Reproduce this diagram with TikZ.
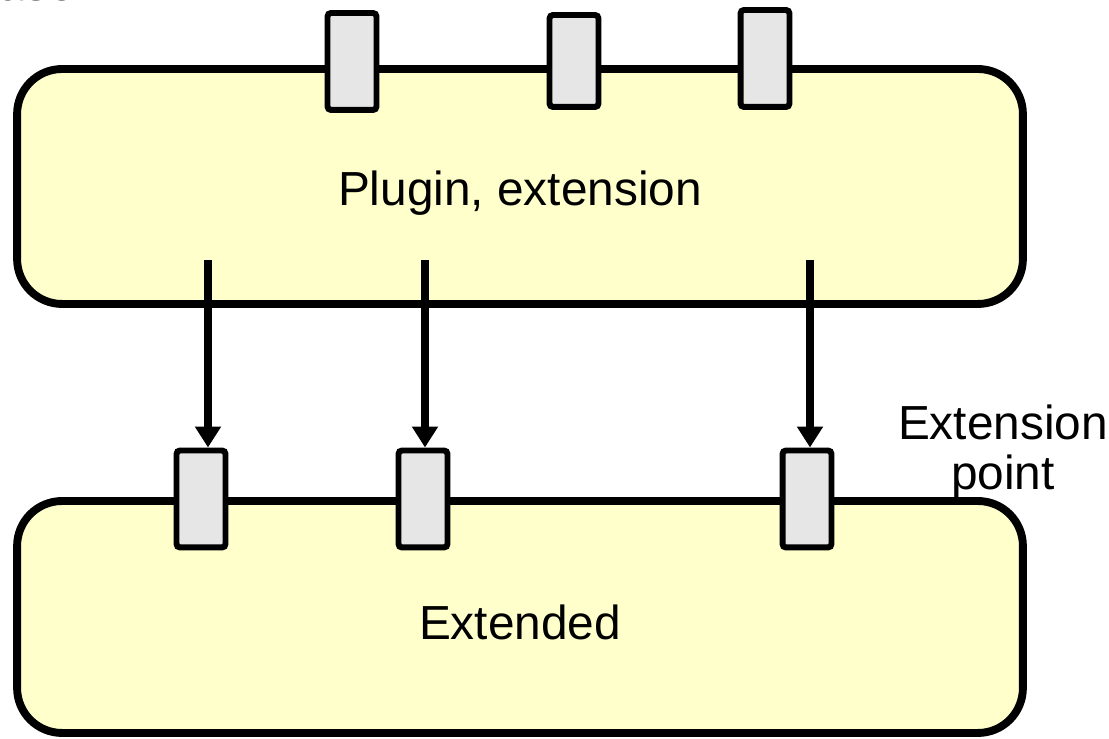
\documentclass[tikz,border=0pt]{standalone}
\usepackage{fontspec}
\setmainfont{Liberation Sans}
\usetikzlibrary{arrows.meta, positioning, calc}
\definecolor{boxfill}{HTML}{FFFFCC}
\definecolor{portfill}{HTML}{E6E6E6}

\begin{document}
\begin{tikzpicture}[x=0.02cm, y=0.02cm,
  caption/.style={inner sep=0pt, font=\fontsize{27.2pt}{28.5pt}\selectfont},
  block/.style={draw, line width=4.5pt, fill=boxfill, rounded corners=0.9cm,
    minimum width=20.12cm, minimum height=4.7cm},
  port/.style={draw, line width=3.4pt, fill=portfill, rounded corners=2pt,
    minimum width=0.98cm, minimum height=1.94cm, inner sep=0pt},
  flow/.style={-{Triangle[length=0.42cm, width=0.5cm]}, line width=4.3pt}]
  \useasboundingbox (0,0) rectangle (1109,739);

  \node[caption, anchor=base east] (title) at (89,738) {ase:};

  \node[block] (plugin) at (520,552.5) {};
  \node[caption] (pluginlabel) at (520,546) {Plugin, extension};
  \node[block, minimum height=4.64cm] (extended) at (520,122) {};
  \node[caption] (extendedlabel) at (520,117) {Extended};

  % plugs on top of the plugin
  \node[port] (plug1) at (352,677.5) {};
  \node[port, minimum height=1.84cm] (plug2) at (574,678) {};
  \node[port] (plug3) at (765,680.5) {};

  % extension points of the extended part
  \foreach \i/\px/\ax in {1/201/208, 2/423/425, 3/807/810} {
    \node[port] (hook\i) at (\px,240) {};
    \coordinate (tail\i) at (\ax,479);
    \draw[flow] (tail\i) -- (tail\i |- hook\i.north);
  }

  \node[caption, align=center] (label) at (1003,287) {Extension\\point};
\end{tikzpicture}
\end{document}
